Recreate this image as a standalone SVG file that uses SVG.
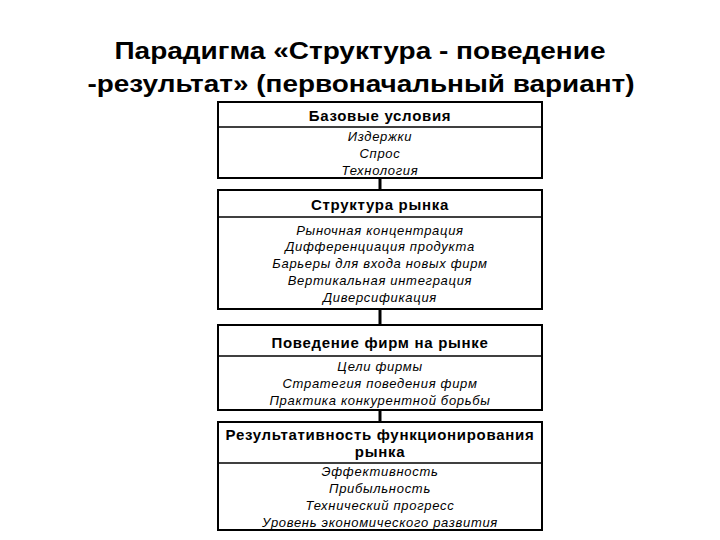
<svg xmlns="http://www.w3.org/2000/svg" width="720" height="540" viewBox="0 0 720 540">
<style>
.box{fill:#fff;stroke:#000;stroke-width:2}
.div{stroke:#000;stroke-width:1.5}
.title{font-family:"Liberation Sans",Arial,sans-serif;font-weight:bold;font-size:24px;text-anchor:middle;fill:#000}
.hd{font-family:"Liberation Sans",Arial,sans-serif;font-weight:bold;font-size:15px;letter-spacing:0.7px;text-anchor:middle;fill:#000}
.it{font-family:"Liberation Sans",Arial,sans-serif;font-style:italic;font-size:13px;letter-spacing:0.7px;text-anchor:middle;fill:#000}
.con{stroke:#000;stroke-width:3}
</style>
<rect width="720" height="540" fill="#fff"/>
<g id="title">
<text class="title" x="360" y="59" textLength="491" lengthAdjust="spacingAndGlyphs">Парадигма «Структура - поведение</text>
<text class="title" x="361" y="92" textLength="547" lengthAdjust="spacingAndGlyphs">-результат» (первоначальный вариант)</text>
</g>
<g id="connectors">
<line class="con" x1="380" y1="178" x2="380" y2="190"/>
<line class="con" x1="380" y1="309" x2="380" y2="325"/>
<line class="con" x1="380" y1="410" x2="380" y2="422"/>
</g>
<g id="basic">
<rect class="box" x="218" y="102" width="324" height="76"/>
<line class="div" x1="218" y1="127" x2="542" y2="127"/>
<text class="hd" x="380" y="121">Базовые условия</text>
<text class="it" x="380" y="141">Издержки</text>
<text class="it" x="380" y="158">Спрос</text>
<text class="it" x="380" y="175">Технология</text>
</g>
<g id="structure">
<rect class="box" x="218" y="190" width="324" height="119"/>
<line class="div" x1="218" y1="217" x2="542" y2="217"/>
<text class="hd" x="380" y="210">Структура рынка</text>
<text class="it" x="380" y="235">Рыночная концентрация</text>
<text class="it" x="380" y="251">Дифференциация продукта</text>
<text class="it" x="380" y="268">Барьеры для входа новых фирм</text>
<text class="it" x="380" y="285">Вертикальная интеграция</text>
<text class="it" x="380" y="302">Диверсификация</text>
</g>
<g id="conduct">
<rect class="box" x="218" y="325" width="324" height="85"/>
<line class="div" x1="218" y1="356" x2="542" y2="356"/>
<text class="hd" x="380" y="348">Поведение фирм на рынке</text>
<text class="it" x="380" y="371">Цели фирмы</text>
<text class="it" x="380" y="388">Стратегия поведения фирм</text>
<text class="it" x="380" y="405">Практика конкурентной борьбы</text>
</g>
<g id="performance">
<rect class="box" x="218" y="422" width="324" height="108"/>
<line class="div" x1="218" y1="463" x2="542" y2="463"/>
<text class="hd" x="380" y="440">Результативность функционирования</text>
<text class="hd" x="380" y="457">рынка</text>
<text class="it" x="380" y="476">Эффективность</text>
<text class="it" x="380" y="493">Прибыльность</text>
<text class="it" x="380" y="510">Технический прогресс</text>
<text class="it" x="380" y="527">Уровень экономического развития</text>
</g>
</svg>
